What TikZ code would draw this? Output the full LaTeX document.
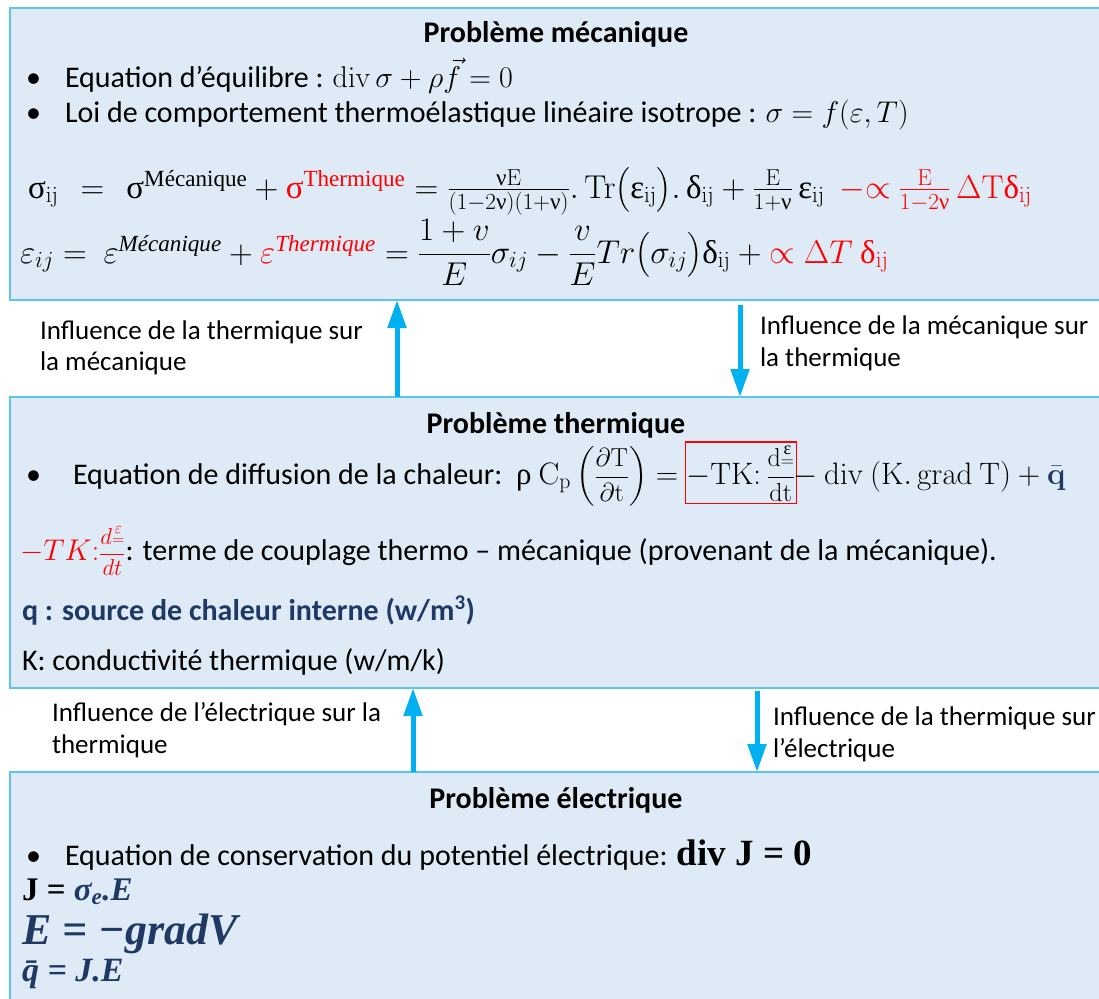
\documentclass[tikz,border=0pt]{standalone}
\usepackage{fix-cm}
\usepackage[no-math]{fontspec}
\usepackage{amsmath}
\setmainfont{Carlito}
\newfontfamily\cam{Liberation Serif}
\usetikzlibrary{arrows.meta}
\definecolor{boxfill}{HTML}{DEEBF7}
\definecolor{boxline}{HTML}{5BC4F1}
\definecolor{arrc}{HTML}{00B0F0}
\definecolor{navy}{HTML}{1F3864}
\newcommand\U[1]{\text{\cam #1}}
\newcommand\sfr[3]{\mbox{\fontsize{#1}{#1}\selectfont$\displaystyle\frac{#2}{#3}$}}
\begin{document}
\begin{tikzpicture}[x=1pt,y=-1pt,
  every node/.style={inner sep=0pt,outer sep=0pt},
  pbox/.style={draw=boxline,line width=1.8pt,fill=boxfill,anchor=north west,minimum width=1100pt},
  ttl/.style={font=\fontsize{30}{34}\selectfont\bfseries,anchor=base},
  txt/.style={font=\fontsize{30}{34}\selectfont,anchor=base west},
  eqn/.style={font=\fontsize{33}{38}\selectfont,anchor=base west},
  lbl/.style={font=\fontsize{27}{30}\selectfont,anchor=base west},
  arr/.style={draw=arrc,line width=5pt,-{Triangle[width=18pt,length=28pt]}}]
\useasboundingbox (0,0) rectangle (1099,998);
\clip (0,0) rectangle (1099,998);
% boxes
\node[pbox,minimum height=292pt] (mech) at (10,8) {};
\node[pbox,minimum height=291pt] (therm) at (10,397) {};
\node[pbox,minimum height=240pt] (elec) at (10,772) {};
% arrows
\draw[arr] ([xshift=387pt]therm.north west) -- ([xshift=387pt]mech.south west);
\draw[arr] ([xshift=730pt,yshift=-5pt]mech.south west) -- ([xshift=730pt]therm.north west);
\draw[arr] ([xshift=403pt]elec.north west) -- ([xshift=403pt]therm.south west);
\draw[arr] ([xshift=747pt,yshift=-3pt]therm.south west) -- ([xshift=747pt]elec.north west);
% labels
\node[lbl] (l1a) at (40,339) {Influence de la thermique sur};
\node[lbl] (l1b) at (40,370) {la mécanique};
\node[lbl] (l2a) at (760,334) {Influence de la mécanique sur};
\node[lbl] (l2b) at (760,366) {la thermique};
\node[lbl] (l3a) at (52,721) {Influence de l’électrique sur la};
\node[lbl] (l3b) at (52,753) {thermique};
\node[lbl] (l4a) at (773,725) {Influence de la thermique sur};
\node[lbl] (l4b) at (773,757) {l’électrique};
% mechanical box
\node[ttl] (t1) at (556,43) {Problème mécanique};
\node[txt] (b1) at (26,87) {•};
\node[txt] (m1) at (65,87) {Equation d’équilibre : $\mathrm{div}\,\sigma+\rho\vec{f}=0$};
\node[txt] (b2) at (26,122) {•};
\node[txt] (m2) at (65,122) {Loi de comportement thermoélastique linéaire isotrope : $\sigma=f(\varepsilon,T)$};
\node[eqn] (sig) at (28,198) {$\U{σ}_{\mathrm{ij}}\ \,=\ \,\U{σ}^{\U{Mécanique}}+\textcolor{red}{\U{σ}^{\U{Thermique}}}=\tfrac{\U{ν}\mathrm{E}}{(1-2\U{ν})(1+\U{ν})}.\,\mathrm{Tr}\big(\U{ε}_{\mathrm{ij}}\big).\,\U{δ}_{\mathrm{ij}}+\tfrac{\mathrm{E}}{1+\U{ν}}\,\U{ε}_{\mathrm{ij}}\ \ \textcolor{red}{-{\propto}\ \tfrac{\mathrm{E}}{1-2\U{ν}}\,\Delta\mathrm{T}\U{δ}_{\mathrm{ij}}}$};
\node[eqn] (eps) at (20,263) {$\varepsilon_{ij}=\ \varepsilon^{\text{\cam\itshape Mécanique}}+\textcolor{red}{\varepsilon^{\text{\cam\itshape Thermique}}}=\dfrac{1+v}{E}\sigma_{ij}-\dfrac{v}{E}Tr\big(\sigma_{ij}\big)\U{δ}_{\mathrm{ij}}+\textcolor{red}{\propto\Delta T\ \U{δ}_{\mathrm{ij}}}$};
% thermal box
\node[ttl] (t2) at (556,433) {Problème thermique};
\node[txt] (b3) at (26,484) {•};
\node[txt] (e1) at (73,484) {Equation de diffusion de la chaleur:\ \ {\fontsize{31}{34}\selectfont$\U{ρ}\ \mathrm{C}_{\mathrm{p}}\left(\sfr{26}{\partial\mathrm{T}}{\partial\mathrm{t}}\right)=\ $}};
\node[txt,font=\fontsize{31}{34}\selectfont,draw=red,line width=1.2pt,inner ysep=2pt,inner xsep=1pt] (e2) at (e1.base east) {$-\mathrm{TK}{:}\,\sfr{26}{\mathrm{d}\overset{\U{ε}}{\scriptstyle=}}{\mathrm{dt}}$};
\node[txt,font=\fontsize{31}{34}\selectfont] (e3) at ([xshift=-3pt]e2.base east) {$-\ \mathrm{div}\ (\mathrm{K.\,grad\ T})+\textcolor{navy}{\bar{\mathbf{q}}}$};
\node[txt] (cpl) at (20,560) {\textcolor{red}{$-TK{:}\sfr{23}{d\overset{\varepsilon}{\scriptstyle=}}{dt}$}: terme de couplage thermo – mécanique (provenant de la mécanique).};
\node[txt,font=\fontsize{30}{34}\selectfont\bfseries,text=navy] (qs) at (22,620) {q : source de chaleur interne (w/m\textsuperscript{3})};
\node[txt] (kc) at (22,670) {K: conductivité thermique (w/m/k)};
% electric box
\node[ttl] (t3) at (556,808) {Problème électrique};
\node[txt] (b4) at (26,865) {•};
\node[txt] (c1) at (65,865) {Equation de conservation du potentiel électrique: {\cam\bfseries\fontsize{37}{40}\selectfont div J = 0}};
\node[eqn,font=\fontsize{33}{36}\selectfont\cam\bfseries] (j1) at (22,900) {J = \textcolor{navy}{\itshape σ\textsubscript{e}.E}};
\node[eqn,font=\fontsize{44}{46}\selectfont\cam\bfseries\itshape,text=navy] (j2) at (22,944) {E = −gradV};
\node[eqn,font=\fontsize{34}{36}\selectfont\cam\bfseries\itshape,text=navy] (j3) at (22,981) {\=q = J.E};
\end{tikzpicture}
\end{document}
